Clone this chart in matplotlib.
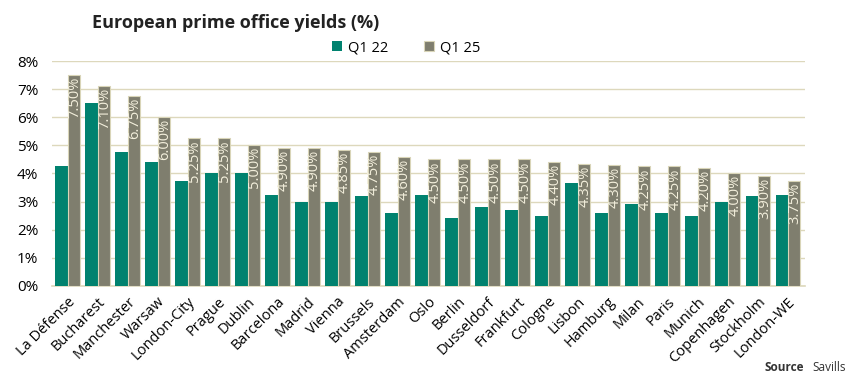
import matplotlib.pyplot as plt
import numpy as np

cities = ["La Défense", "Bucharest", "Manchester", "Warsaw", "London-City", "Prague",
          "Dublin", "Barcelona", "Madrid", "Vienna", "Brussels", "Amsterdam", "Oslo",
          "Berlin", "Dusseldorf", "Frankfurt", "Cologne", "Lisbon", "Hamburg", "Milan",
          "Paris", "Munich", "Copenhagen", "Stockholm", "London-WE"]
q1_22 = [4.25, 6.50, 4.75, 4.40, 3.75, 4.00, 4.00, 3.25, 3.00, 3.00, 3.20, 2.60, 3.25,
         2.40, 2.80, 2.70, 2.50, 3.65, 2.60, 2.90, 2.60, 2.50, 3.00, 3.20, 3.25]
q1_25 = [7.50, 7.10, 6.75, 6.00, 5.25, 5.25, 5.00, 4.90, 4.90, 4.85, 4.75, 4.60, 4.50,
         4.50, 4.50, 4.50, 4.40, 4.35, 4.30, 4.25, 4.25, 4.20, 4.00, 3.90, 3.75]

plt.rcParams['font.family'] = ['Open Sans', 'DejaVu Sans']

teal = "#00826f"
grey = "#7f7e6e"
grid = "#ddd8bc"

fig = plt.figure(figsize=(8.6, 3.89), dpi=100)
ax = fig.add_axes([0.0605, 0.265, 0.876, 0.578])

x = np.arange(len(cities))
w = 0.415
ax.bar(x - w / 2, q1_22, w, color=teal, label="Q1 22", zorder=3)
bars = ax.bar(x + w / 2, q1_25, w, color=grey, edgecolor="#d9d5b8", linewidth=0.8,
              label="Q1 25", zorder=3)

for b, v in zip(bars, q1_25):
    ax.text(b.get_x() + b.get_width() / 2 + 0.02, v - 0.06, f"{v:.2f}%", rotation=90,
            ha="center", va="top", color="#f3efdc", fontsize=10.5, zorder=4)

ax.set_ylim(0, 8)
ax.set_xlim(-0.52, len(cities) - 0.42)
ax.set_yticks(range(0, 9))
ax.set_yticklabels([f"{i}%" for i in range(0, 9)], fontsize=11)
ax.yaxis.grid(True, color=grid, linewidth=1, zorder=0)
ax.set_xticks(x)
ax.set_xticklabels(cities, rotation=45, ha="right", rotation_mode="anchor", fontsize=10.5)
ax.tick_params(length=0, pad=6)
ax.tick_params(axis="y", pad=10)
for s in ["top", "right", "left"]:
    ax.spines[s].set_visible(False)
ax.spines["bottom"].set_color(grid)
ax.spines["bottom"].set_linewidth(1.2)

ax.legend(loc="upper center", bbox_to_anchor=(0.47, 1.15), ncol=2, frameon=False,
          fontsize=10.5, handlelength=0.7, handleheight=0.7, columnspacing=2.5, handletextpad=0.4)

fig.text(0.107, 0.94, "European prime office yields (%)", fontsize=13, fontweight="bold",
         color="#222222", va="center")
fig.text(0.983, 0.055, "Savills", fontsize=8.5, ha="right", va="center", color="#333333")
fig.text(0.935, 0.055, "Source", fontsize=8.5, ha="right", va="center", fontweight="bold",
         color="#333333")

fig.savefig("out.png", dpi=100)
